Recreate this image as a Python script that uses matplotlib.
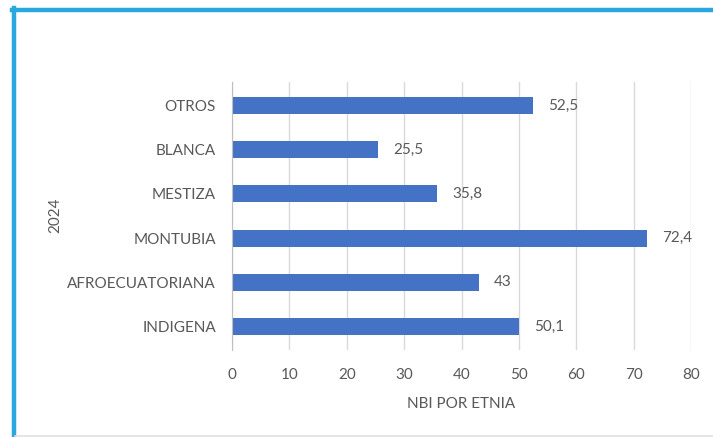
import matplotlib
matplotlib.use("Agg")
import matplotlib.pyplot as plt
from matplotlib.lines import Line2D

categories = ["INDIGENA", "AFROECUATORIANA", "MONTUBIA", "MESTIZA", "BLANCA", "OTROS"]
values = [50.1, 43, 72.4, 35.8, 25.5, 52.5]
labels = ["50,1", "43", "72,4", "35,8", "25,5", "52,5"]
xticks = [0, 10, 20, 30, 40, 50, 60, 70, 80]

plt.rcParams["font.family"] = ["Lato", "DejaVu Sans"]
text_color = "#595959"
bar_color = "#4472C4"
grid_color = "#D9D9D9"

W, H = 713, 437
fig = plt.figure(figsize=(W / 100, H / 100), dpi=100)

# outer frame: blue on the left and top, light grey at the bottom
fig.add_artist(Line2D([13.5 / W, 13.5 / W], [0, 1 - 8 / H], transform=fig.transFigure,
                      color="#29A8E0", lw=3.2))
fig.add_artist(Line2D([12 / W, 1], [1 - 9.5 / H, 1 - 9.5 / H], transform=fig.transFigure,
                      color="#29A8E0", lw=3.2))
fig.add_artist(Line2D([15 / W, 1], [1.5 / H, 1.5 / H], transform=fig.transFigure,
                      color="#E0E0E0", lw=1.2))

left, right = 232, 691
top, bottom = 82, 350
ax = fig.add_axes([left / W, 1 - bottom / H, (right - left) / W, (bottom - top) / H])

y = list(range(len(categories)))
ax.barh(y, values, height=0.38, color=bar_color, zorder=3)
for yi, v, lab in zip(y, values, labels):
    ax.annotate(lab, (v, yi), xytext=(10.5, 0), textcoords="offset points",
                va="center", ha="left", fontsize=11, color=text_color)

ax.set_xlim(0, 80)
ax.set_ylim(-0.53, 5.53)
ax.set_xticks(xticks)
ax.set_xticklabels([str(t) for t in xticks])
ax.set_yticks(y)
ax.set_yticklabels(categories)
ax.tick_params(axis="both", length=0, labelsize=11, colors=text_color)
ax.tick_params(axis="x", pad=13)
ax.tick_params(axis="y", pad=11.5)
ax.grid(axis="x", color=grid_color, lw=1, zorder=0)
for s in ["top", "right", "bottom"]:
    ax.spines[s].set_visible(False)
ax.spines["left"].set_color("#BFBFBF")
ax.spines["left"].set_zorder(4)

ax.set_xlabel("NBI POR ETNIA", fontsize=11, color=text_color, labelpad=11)
fig.text(55 / W, 1 - 215 / H, "2024", rotation=90, ha="center", va="center",
         fontsize=11, color=text_color)

fig.savefig("out.png", dpi=100, facecolor="white")
